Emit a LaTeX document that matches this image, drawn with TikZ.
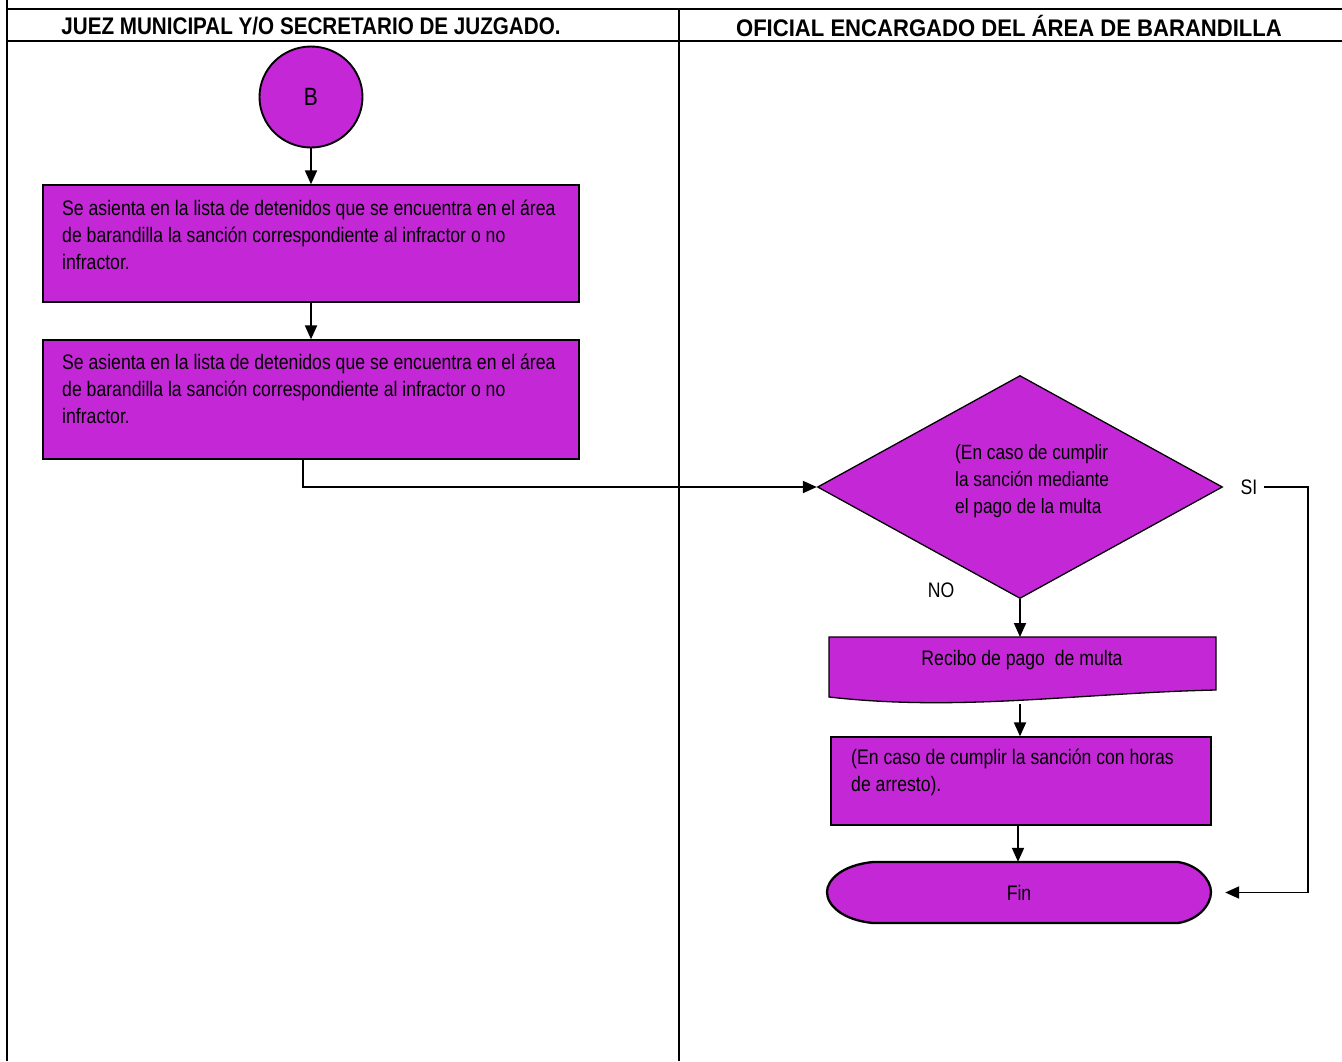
\documentclass[tikz,border=0pt]{standalone}
\usepackage{fontspec}
\usepackage{graphicx}
\setmainfont{Liberation Sans}
\newfontfamily\narrowfont{Liberation Sans}[FakeStretch=0.84]
\usetikzlibrary{arrows.meta,shapes.geometric}
\definecolor{purp}{RGB}{196,40,214}
\begin{document}
\begin{tikzpicture}[x=1pt,y=-1pt,
  frame/.style={line width=2.2pt},
  box/.style={draw=black, fill=purp, line width=1.3pt, inner sep=0pt},
  conn/.style={line width=1.9pt, -{Triangle[length=14pt,width=12pt]}},
  txt/.style={font=\narrowfont\fontsize{21}{27}\selectfont, align=left, inner sep=0pt},
  lbl/.style={font=\narrowfont\fontsize{21}{24}\selectfont, inner sep=0pt},
  hdr/.style={font=\fontsize{24}{28}\selectfont\bfseries, inner sep=0pt}]
\useasboundingbox (0,0) rectangle (1342,1061);
\fill[white] (0,0) rectangle (1342,1061);
% frame
\draw[frame] (7,0) -- (7,1061);
\draw[frame] (7,9) -- (1342,9);
\draw[frame] (7,41) -- (1342,41);
\draw[line width=1.9pt] (679,9) -- (679,1061);
\node[hdr] (h1) at (311,26) {\scalebox{0.86}[1]{JUEZ MUNICIPAL Y/O SECRETARIO DE JUZGADO.}};
\node[hdr] (h2) at (1009,26) {\scalebox{0.92}[1]{OFICIAL ENCARGADO DEL ÁREA DE BARANDILLA}};
% left lane
\node[box, ellipse, line width=1.9pt, minimum width=103, minimum height=101, font=\narrowfont\fontsize{25}{28}\selectfont] (B) at (311,97) {B};
\node[box, minimum width=536, minimum height=117] (box1) at (311,243.5) {};
\node[txt, anchor=north west] (t1) at (62,200) {Se asienta en la lista de detenidos que se encuentra en el área\\de barandilla la sanción correspondiente al infractor o no\\infractor.};
\node[box, minimum width=536, minimum height=119] (box2) at (311,399.5) {};
\node[txt, anchor=north west] (t2) at (62,354) {Se asienta en la lista de detenidos que se encuentra en el área\\de barandilla la sanción correspondiente al infractor o no\\infractor.};
% right lane
\node[box, diamond, minimum width=405, minimum height=223] (dia) at (1020,487) {};
\node[txt, anchor=north west, font=\narrowfont\fontsize{20.6}{27}\selectfont] (t3) at (955,444) {(En caso de cumplir\\la sanción mediante\\el pago de la multa};
\node[lbl] (si) at (1249,487) {SI};
\node[lbl] (no) at (941,590) {NO};
% document shape
\path[box] (829,637) -- (1216,637) -- (1216,690) .. controls (1080,693) and (960,712) .. (829,697) -- cycle;
\node[lbl, anchor=base] (doc) at (1022,665) {Recibo de pago\ \ de multa};
\coordinate (docn) at (1020,637);
\coordinate (docs) at (1020,704);
\node[box, minimum width=380, minimum height=88] (box3) at (1021,781) {};
\node[txt, anchor=north west] (t4) at (851,749) {(En caso de cumplir la sanción con horas\\de arresto).};
% terminator
\path[box, line width=2.3pt] (873,862) -- (1178,862) .. controls (1198,865) and (1211,880) .. (1211,892) .. controls (1211,905) and (1198,920) .. (1178,923) -- (873,923) .. controls (842,920) and (827,905) .. (827,892) .. controls (827,880) and (842,865) .. (873,862) -- cycle;
\node[lbl, minimum width=384, minimum height=61] (fin) at (1019,892.5) {Fin};
% connectors
\coordinate (c3) at (1018,825);
\draw[conn] (B) -- (box1);
\draw[conn] (box1) -- (box2);
\draw[conn] ([xshift=-8pt]box2.south) |- (dia.west);
\draw[conn] (dia.south) -- (docn);
\draw[conn] (docs) -- (box3.north -| docs);
\draw[conn] (c3) -- (fin.north -| c3);
\coordinate (sic) at (1308,487);
\draw[conn, shorten >=14pt] ([xshift=6pt]si.east) -- (sic) |- (fin.east);
\end{tikzpicture}
\end{document}
